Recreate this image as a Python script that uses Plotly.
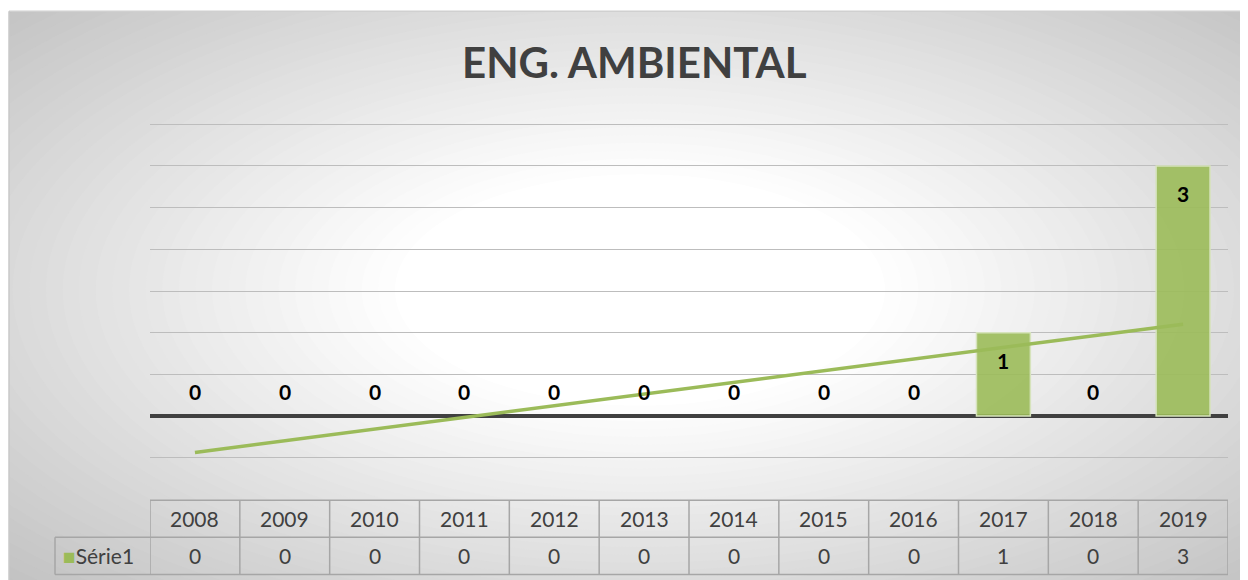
import numpy as np
import plotly.graph_objects as go

title = "ENG. AMBIENTAL"
years = ["2008", "2009", "2010", "2011", "2012", "2013", "2014", "2015", "2016", "2017", "2018", "2019"]
values = [0, 0, 0, 0, 0, 0, 0, 0, 0, 1, 0, 3]
series_name = "Série1"

OFF = 8  # browser default body margin
W, H = 1248, 580  # extra beyond the viewport is clipped
UNIT = 83.25
Y0, Y1 = -0.55, 3.55
ZERO_PX = 416
PLOT_L, PLOT_R = 150, 1228
PLOT_T = ZERO_PX - Y1 * UNIT
PLOT_B = ZERO_PX - Y0 * UNIT
L = PLOT_L - OFF
R = (W + OFF) - PLOT_R
T = PLOT_T - OFF
B = (H + OFF) - PLOT_B
PW, PH = W - L - R, H - T - B

GREEN = "#9BBB59"
TXT = "#404040"

def px2paper_x(px):
    return (px - PLOT_L) / PW

def px2paper_y(py):
    return (PLOT_B - py) / PH

fig = go.Figure()

fig.add_trace(go.Bar(
    x=list(range(len(years))), y=values, name=series_name,
    marker=dict(color="rgba(155,187,89,0.9)",
                line=dict(color="#d6e3bc", width=[0 if v == 0 else 1.5 for v in values])),
    width=0.6, showlegend=False, hoverinfo="skip",
))

# linear trend line (least squares on the data)
xi = np.arange(1, len(values) + 1)
slope, intercept = np.polyfit(xi, np.array(values, dtype=float), 1)
trend = slope * xi + intercept
fig.add_trace(go.Scatter(
    x=list(range(len(years))), y=trend, mode="lines",
    line=dict(color=GREEN, width=3.5), showlegend=False, hoverinfo="skip",
))

shapes = []
# radial background gradient
cx, cy = 640, 290
n = 40
c_out, c_in = 192, 255
kmax, kmin = 1.3, 0.35
for i in range(n + 1):
    k = kmax - (kmax - kmin) * i / n
    t = i / n
    c = int(round(c_out + (c_in - c_out) * t))
    rx, ry = 700 * k, 330 * k
    shapes.append(dict(
        type="circle", xref="paper", yref="paper", layer="below",
        x0=px2paper_x(cx - rx), x1=px2paper_x(cx + rx),
        y0=px2paper_y(cy + ry), y1=px2paper_y(cy - ry),
        fillcolor=f"rgb({c},{c},{c})", line=dict(width=0),
    ))
# white margins outside the chart panel
shapes.append(dict(type="rect", xref="paper", yref="paper", layer="below",
                   x0=px2paper_x(-10), x1=px2paper_x(9), y0=px2paper_y(600), y1=px2paper_y(-10),
                   fillcolor="white", line=dict(width=0)))
shapes.append(dict(type="rect", xref="paper", yref="paper", layer="below",
                   x0=px2paper_x(-10), x1=px2paper_x(1270), y0=px2paper_y(12), y1=px2paper_y(-10),
                   fillcolor="white", line=dict(width=0)))
# panel border
shapes.append(dict(type="line", xref="paper", yref="paper", layer="below",
                   x0=px2paper_x(9), x1=px2paper_x(1270), y0=px2paper_y(12), y1=px2paper_y(12),
                   line=dict(color="#d0d0d0", width=1.5)))
shapes.append(dict(type="line", xref="paper", yref="paper", layer="below",
                   x0=px2paper_x(9), x1=px2paper_x(9), y0=px2paper_y(12), y1=px2paper_y(600),
                   line=dict(color="#c8c8c8", width=1.5)))

# data table grid
GRID = "#a6a6a6"
r0, r1, r2 = px2paper_y(500), px2paper_y(537), px2paper_y(574)
nc = len(years)
for yv in (r0, r1, r2):
    shapes.append(dict(type="line", xref="x", yref="paper", x0=-0.5, x1=nc - 0.5, y0=yv, y1=yv,
                       line=dict(color=GRID, width=1.5)))
for j in range(nc + 1):
    shapes.append(dict(type="line", xref="x", yref="paper", x0=j - 0.5, x1=j - 0.5, y0=r0, y1=r2,
                       line=dict(color=GRID, width=1.5)))
# legend cell
lx0 = px2paper_x(55)
shapes.append(dict(type="line", xref="paper", yref="paper", x0=lx0, x1=0, y0=r1, y1=r1,
                   line=dict(color=GRID, width=1.5)))
shapes.append(dict(type="line", xref="paper", yref="paper", x0=lx0, x1=0, y0=r2, y1=r2,
                   line=dict(color=GRID, width=1.5)))
shapes.append(dict(type="line", xref="paper", yref="paper", x0=lx0, x1=lx0, y0=r1, y1=r2,
                   line=dict(color=GRID, width=1.5)))

annotations = []
tfont = dict(family="Lato, 'Open Sans', sans-serif", size=21, color=TXT)
for j, (yr, v) in enumerate(zip(years, values)):
    annotations.append(dict(x=j, y=(r0 + r1) / 2, xref="x", yref="paper", text=yr,
                            showarrow=False, font=tfont, xanchor="center", yanchor="middle"))
    annotations.append(dict(x=j, y=(r1 + r2) / 2, xref="x", yref="paper", text=str(v),
                            showarrow=False, font=tfont, xanchor="center", yanchor="middle"))
    # data labels
    annotations.append(dict(x=j, y=v, xref="x", yref="y", text=f"<b>{v}</b>",
                            showarrow=False, xanchor="center", yanchor="middle",
                            yshift=(25 if v == 0 else -28),
                            font=dict(family="Lato, 'Open Sans', sans-serif", size=21, color="black")))
annotations.append(dict(x=px2paper_x(61), y=(r1 + r2) / 2, xref="paper", yref="paper",
                        text=f"<span style='color:{GREEN}'>■</span>{series_name}",
                        showarrow=False, xanchor="left", yanchor="middle", font=tfont))
annotations.append(dict(x=px2paper_x(634), y=px2paper_y(63), xref="paper", yref="paper",
                        text=f"<b>{title}</b>", showarrow=False, xanchor="center", yanchor="middle",
                        font=dict(family="Lato, 'Open Sans', sans-serif", size=42, color=TXT)))

fig.update_layout(
    width=W, height=H,
    margin=dict(l=L, r=R, t=T, b=B, pad=0),
    paper_bgcolor="rgb(192,192,192)",
    plot_bgcolor="rgba(0,0,0,0)",
    shapes=shapes, annotations=annotations,
    xaxis=dict(range=[-0.5, nc - 0.5], showticklabels=False, showgrid=False, zeroline=False,
               showline=False, ticks=""),
    yaxis=dict(range=[Y0, Y1], tick0=0, dtick=0.5, showticklabels=False, showgrid=True,
               gridcolor="#bdbdbd", gridwidth=1, zeroline=True, zerolinecolor="#404040",
               zerolinewidth=3.5, showline=False, ticks=""),
    bargap=0.4,
)

fig.write_html(
    "out.html",
    post_script="document.documentElement.style.overflow='hidden';document.body.style.overflow='hidden';",
)
